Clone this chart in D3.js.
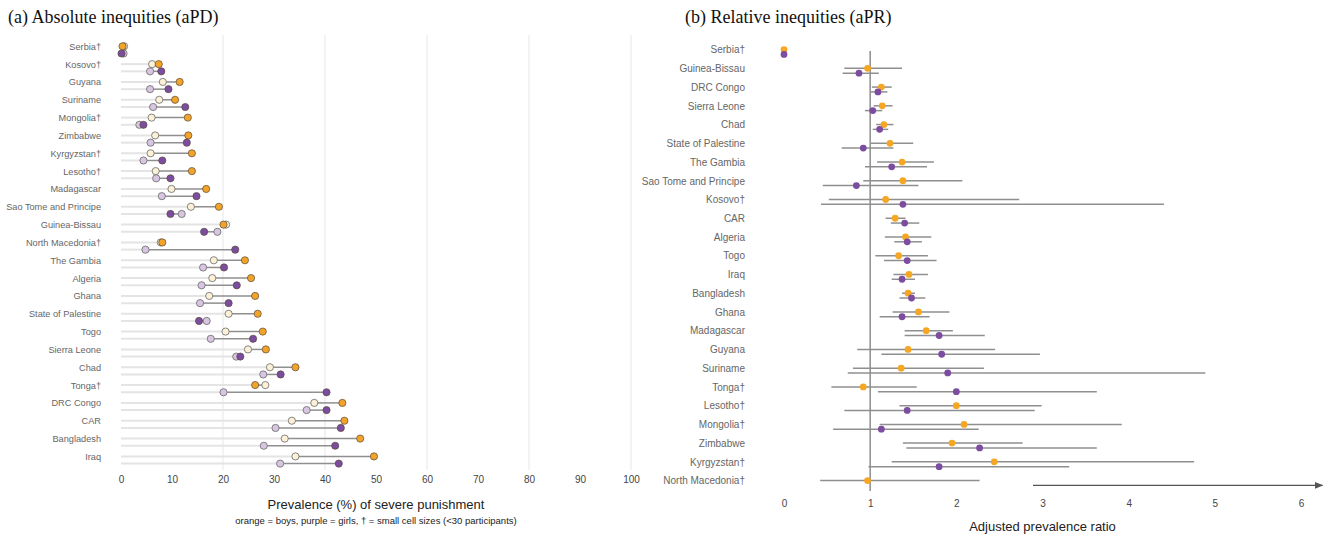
<!DOCTYPE html>
<html>
<head>
<meta charset="utf-8">
<script src="https://cdn.jsdelivr.net/npm/d3@7"></script>
<style>
  body { margin: 0; background: #fff; }
  svg { display: block; font-family: "Liberation Sans", Arial, sans-serif; }
  .title { font-family: "Liberation Serif", "Times New Roman", serif; font-size: 18px; fill: #111; }
  .country { fill: #666; }
  .tick text { font-size: 10px; fill: #444; }
</style>
</head>
<body>
<div id="chart"></div>
<script>
// (a) absolute inequities: prevalence (%), pale dot and saturated dot per sex
const countriesA = ['Serbia†', 'Kosovo†', 'Guyana', 'Suriname', 'Mongolia†', 'Zimbabwe', 'Kyrgyzstan†',
  'Lesotho†', 'Madagascar', 'Sao Tome and Principe', 'Guinea-Bissau', 'North Macedonia†', 'The Gambia',
  'Algeria', 'Ghana', 'State of Palestine', 'Togo', 'Sierra Leone', 'Chad', 'Tonga†', 'DRC Congo', 'CAR',
  'Bangladesh', 'Iraq'];
const boysPale = [0.6, 6.1, 8.2, 7.5, 6.0, 6.7, 5.8, 6.8, 9.9, 13.7, 20.6, 7.8, 18.2, 17.9, 17.3, 21.1, 20.5, 24.9, 29.2, 28.3, 37.9, 33.5, 32.1, 34.2];
const boysSat = [0.3, 7.4, 11.5, 10.6, 13.1, 13.2, 13.9, 13.9, 16.7, 19.2, 20.1, 8.1, 24.3, 25.5, 26.3, 26.8, 27.8, 28.4, 34.2, 26.3, 43.4, 43.8, 46.9, 49.6];
const girlsPale = [0.5, 5.7, 5.7, 6.3, 3.6, 5.8, 4.4, 6.9, 8.0, 11.9, 18.9, 4.8, 16.1, 15.8, 15.5, 16.8, 17.6, 22.6, 27.9, 20.1, 36.4, 30.3, 28.0, 31.2];
const girlsSat = [0.1, 7.9, 9.3, 12.6, 4.4, 12.9, 8.1, 9.7, 14.8, 9.7, 16.3, 22.4, 20.2, 22.7, 21.1, 15.3, 25.9, 23.4, 31.3, 40.3, 40.3, 43.1, 42.0, 42.7];
const ticksA = [0, 10, 20, 30, 40, 50, 60, 70, 80, 90, 100];
const gridA = [20, 40, 60, 80, 100];

// (b) relative inequities: adjusted prevalence ratio with 95% CI
const countriesB = ['Serbia†', 'Guinea-Bissau', 'DRC Congo', 'Sierra Leone', 'Chad', 'State of Palestine',
  'The Gambia', 'Sao Tome and Principe', 'Kosovo†', 'CAR', 'Algeria', 'Togo', 'Iraq', 'Bangladesh', 'Ghana',
  'Madagascar', 'Guyana', 'Suriname', 'Tonga†', 'Lesotho†', 'Mongolia†', 'Zimbabwe', 'Kyrgyzstan†',
  'North Macedonia†'];
const boysPR = [0, 0.97, 1.13, 1.14, 1.16, 1.23, 1.37, 1.38, 1.18, 1.29, 1.41, 1.33, 1.45, 1.44, 1.56, 1.65, 1.44, 1.36, 0.92, 2.00, 2.09, 1.95, 2.44, 0.97];
const boysLo = [null, 0.70, 1.02, 1.04, 1.07, 1.01, 1.08, 0.92, 0.52, 1.18, 1.17, 1.06, 1.27, 1.37, 1.26, 1.40, 0.85, 0.80, 0.55, 1.34, 1.11, 1.38, 1.25, 0.42];
const boysHi = [null, 1.37, 1.25, 1.26, 1.27, 1.50, 1.74, 2.07, 2.73, 1.41, 1.71, 1.67, 1.67, 1.52, 1.92, 1.96, 2.45, 2.32, 1.54, 2.99, 3.92, 2.77, 4.76, 2.27];
const girlsPR = [0, 0.87, 1.09, 1.03, 1.11, 0.92, 1.25, 0.84, 1.38, 1.40, 1.43, 1.43, 1.37, 1.48, 1.37, 1.80, 1.83, 1.90, 2.00, 1.43, 1.13, 2.27, 1.80, null];
const girlsLo = [null, 0.68, 1.00, 0.94, 1.03, 0.67, 0.94, 0.45, 0.43, 1.24, 1.28, 1.16, 1.25, 1.34, 1.11, 1.40, 1.13, 0.74, 1.09, 0.70, 0.57, 1.42, 0.98, 2.89];
const girlsHi = [null, 1.10, 1.20, 1.14, 1.21, 1.27, 1.66, 1.56, 4.41, 1.57, 1.60, 1.77, 1.52, 1.64, 1.69, 2.33, 2.97, 4.89, 3.63, 2.91, 2.26, 3.63, 3.31, 6.25];
const ticksB = [0, 1, 2, 3, 4, 5, 6];

const W = 1327, H = 535;
const ORANGE = '#f2a32a', PURPLE = '#7b4c9f';
const PALE_BOY = '#fcf0d6', PALE_GIRL = '#d8c5e2';

const svg = d3.select('#chart').append('svg').attr('width', W).attr('height', H);

// ---------- panel (a)
const xA = d3.scaleLinear().domain([0, 100]).range([121, 631]);
const yA = d3.scalePoint().domain(countriesA).range([49.9, 460]);
const offA = 3.6;
const gA = svg.append('g');

gA.append('text').attr('class', 'title').attr('x', 8).attr('y', 23).text('(a) Absolute inequities (aPD)');

gA.selectAll('.grid').data(gridA).enter().append('line')
  .attr('x1', (d) => xA(d)).attr('x2', (d) => xA(d))
  .attr('y1', 35).attr('y2', 470)
  .attr('stroke', '#ebebeb').attr('stroke-width', 1.2);

gA.selectAll('.country').data(countriesA).enter().append('text')
  .attr('class', 'country').attr('font-size', 9.2)
  .attr('x', 101).attr('y', (d) => yA(d) - 2.5)
  .attr('text-anchor', 'end').attr('dominant-baseline', 'middle')
  .text((d) => d);

const rowsA = [];
countriesA.forEach((c, i) => {
  rowsA.push({ y: yA(c) - offA, pale: boysPale[i], sat: boysSat[i], pf: PALE_BOY, sf: ORANGE });
  rowsA.push({ y: yA(c) + offA, pale: girlsPale[i], sat: girlsSat[i], pf: PALE_GIRL, sf: PURPLE });
});

gA.selectAll('.base').data(rowsA).enter().append('line')
  .attr('x1', xA(0)).attr('x2', (d) => xA(Math.min(d.pale, d.sat)))
  .attr('y1', (d) => d.y).attr('y2', (d) => d.y)
  .attr('stroke', '#e4e4e4').attr('stroke-width', 2);

gA.selectAll('.gap').data(rowsA).enter().append('line')
  .attr('x1', (d) => xA(d.pale)).attr('x2', (d) => xA(d.sat))
  .attr('y1', (d) => d.y).attr('y2', (d) => d.y)
  .attr('stroke', '#8f8f8f').attr('stroke-width', 1.5);

gA.selectAll('.pale').data(rowsA).enter().append('circle')
  .attr('cx', (d) => xA(d.pale)).attr('cy', (d) => d.y).attr('r', 3.6)
  .attr('fill', (d) => d.pf).attr('stroke', '#6a6a6a').attr('stroke-width', 0.8);

gA.selectAll('.sat').data(rowsA).enter().append('circle')
  .attr('cx', (d) => xA(d.sat)).attr('cy', (d) => d.y).attr('r', 3.6)
  .attr('fill', (d) => d.sf).attr('stroke', '#5a4a3a').attr('stroke-width', 0.7);

gA.append('g')
  .attr('transform', 'translate(0,472)')
  .call(d3.axisBottom(xA).tickValues(ticksA).tickSize(0).tickPadding(4))
  .call((g) => g.select('.domain').remove());

gA.append('text').attr('x', xA(50)).attr('y', 509).attr('text-anchor', 'middle')
  .attr('font-size', 13).attr('fill', '#222').text('Prevalence (%) of severe punishment');
gA.append('text').attr('x', xA(50)).attr('y', 524).attr('text-anchor', 'middle')
  .attr('font-size', 9.5).attr('fill', '#222')
  .text('orange = boys, purple = girls, † = small cell sizes (<30 participants)');

// ---------- panel (b)
const xB = d3.scaleLinear().domain([0, 6]).range([784, 1301]);
const yB = d3.scalePoint().domain(countriesB).range([52, 483]);
const offB = 2.4;
const gB = svg.append('g');

gB.append('text').attr('class', 'title').attr('x', 685).attr('y', 23).text('(b) Relative inequities (aPR)');

gB.selectAll('.country').data(countriesB).enter().append('text')
  .attr('class', 'country').attr('font-size', 10)
  .attr('x', 745).attr('y', (d) => yB(d) - 1.3)
  .attr('text-anchor', 'end').attr('dominant-baseline', 'middle')
  .text((d) => d);

gB.append('line')
  .attr('x1', xB(1)).attr('x2', xB(1)).attr('y1', 51).attr('y2', 491)
  .attr('stroke', '#8c8c8c').attr('stroke-width', 1.5);

const rowsB = [];
countriesB.forEach((c, i) => {
  rowsB.push({ y: yB(c) - offB, pr: boysPR[i], lo: boysLo[i], hi: boysHi[i], fill: '#f5a623', arrow: false });
  rowsB.push({ y: yB(c) + offB, pr: girlsPR[i], lo: girlsLo[i], hi: girlsHi[i], fill: PURPLE, arrow: girlsPR[i] === null });
});

svg.append('defs').append('marker')
  .attr('id', 'arrowhead').attr('viewBox', '0 0 10 10')
  .attr('refX', 9).attr('refY', 5).attr('markerWidth', 7).attr('markerHeight', 7)
  .attr('orient', 'auto')
  .append('path').attr('d', 'M0,1L10,5L0,9Z').attr('fill', '#555');

gB.selectAll('.ci').data(rowsB.filter((d) => d.lo !== null)).enter().append('line')
  .attr('x1', (d) => xB(d.lo)).attr('x2', (d) => xB(d.hi))
  .attr('y1', (d) => d.y).attr('y2', (d) => d.y)
  .attr('stroke', (d) => (d.arrow ? '#555' : '#8f8f8f'))
  .attr('stroke-width', (d) => (d.arrow ? 1.2 : 1.5))
  .attr('marker-end', (d) => (d.arrow ? 'url(#arrowhead)' : null));

gB.selectAll('.pt').data(rowsB.filter((d) => d.pr !== null)).enter().append('circle')
  .attr('cx', (d) => xB(d.pr)).attr('cy', (d) => d.y).attr('r', 3.4)
  .attr('fill', (d) => d.fill);

gB.append('g')
  .attr('transform', 'translate(0,496)')
  .call(d3.axisBottom(xB).tickValues(ticksB).tickFormat(d3.format('d')).tickSize(0).tickPadding(4))
  .call((g) => g.select('.domain').remove());

gB.append('text').attr('x', xB(3)).attr('y', 531).attr('text-anchor', 'middle')
  .attr('font-size', 13).attr('fill', '#222').text('Adjusted prevalence ratio');
</script>
</body>
</html>
